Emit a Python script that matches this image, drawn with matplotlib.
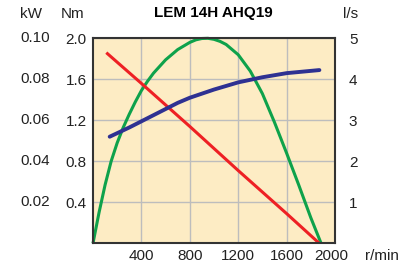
"""Courbes caractéristiques du ventilateur : couple, puissance et débit selon la vitesse."""

import matplotlib
matplotlib.use("Agg")
import matplotlib.pyplot as plt
from matplotlib.transforms import blended_transform_factory, offset_copy

plt.rcParams["font.family"] = ["Liberation Sans", "DejaVu Sans"]

TITLE = "LEM 14H AHQ19"

power_rpm = [0, 50, 100, 150, 200, 250, 300, 350, 400, 450, 500, 600, 700, 800, 850, 900,
             950, 1000, 1050, 1100, 1200, 1300, 1400, 1500, 1600, 1700, 1800, 1885]
power_nm = [0.00, 0.30, 0.57, 0.80, 0.98, 1.13, 1.26, 1.38, 1.49, 1.58, 1.66, 1.79, 1.89, 1.96, 1.985, 1.998,
            2.00, 1.99, 1.97, 1.94, 1.84, 1.68, 1.46, 1.18, 0.88, 0.57, 0.25, 0.00]

torque_rpm = [110, 400, 800, 1200, 1600, 1870]
torque_nm = [1.86, 1.56, 1.14, 0.71, 0.29, 0.00]

flow_rpm = [138, 300, 400, 500, 600, 700, 800, 1000, 1200, 1400, 1600, 1871]
flow_nm = [1.04, 1.13, 1.19, 1.25, 1.31, 1.37, 1.42, 1.50, 1.57, 1.62, 1.66, 1.69]

x_ticks = [400, 800, 1200, 1600, 2000]
nm_ticks = [0.4, 0.8, 1.2, 1.6, 2.0]
nm_labels = ["0.4", "0.8", "1.2", "1.6", "2.0"]
kw_labels = ["0.02", "0.04", "0.06", "0.08", "0.10"]
ls_ticks = [1, 2, 3, 4, 5]

BG = "#fdecc4"
GRID = "#bdbdbd"
TXT = "#222222"
FS = 11


def main():
    fig = plt.figure(figsize=(4.12, 2.73), dpi=100)
    ax = fig.add_axes([0.2257, 0.1088, 0.5874, 0.7509])
    ax.set_facecolor(BG)

    ax.set_xlim(0, 2000)
    ax.set_ylim(0, 2.0)
    ax.set_xticks(x_ticks[:-1])
    ax.set_yticks(nm_ticks)
    ax.set_yticklabels(nm_labels)
    ax.grid(True, color=GRID, linewidth=1.0)
    ax.set_axisbelow(True)
    ax.tick_params(length=0, labelsize=FS, colors=TXT)
    ax.tick_params(axis="y", pad=4.5)
    ax.set_xticklabels([])

    for s in ax.spines.values():
        s.set_color("#333333")
        s.set_linewidth(1.5)

    ax.plot(power_rpm, power_nm, color="#0ea24b", linewidth=2.2, solid_capstyle="butt", clip_on=False)
    ax.plot(torque_rpm, torque_nm, color="#ee2024", linewidth=2.2, solid_capstyle="butt")
    ax.plot(flow_rpm, flow_nm, color="#2e3192", linewidth=2.8, solid_capstyle="round")

    # étiquettes de l'axe x, 2000 un peu décalé comme sur l'original
    for v in x_ticks:
        dx = -4 if v == 2000 else 0
        tr = offset_copy(ax.transData, fig=fig, x=dx, y=0, units="dots")
        ax.text(v, -0.06, str(v), transform=tr, ha="center", va="top", fontsize=FS, color=TXT)
    ax.text(1.123, -0.03, "r/min", transform=ax.transAxes, ha="left", va="top",
            fontsize=FS, color=TXT)

    # colonne kW à gauche
    trans = blended_transform_factory(ax.transAxes, ax.transData)
    for v, lab in zip(nm_ticks, kw_labels):
        ax.text(-0.179, v, lab, transform=trans, ha="right", va="center", fontsize=FS, color=TXT)

    # échelle l/s à droite
    ax2 = ax.twinx()
    ax2.set_ylim(0, 5)
    ax2.set_yticks(ls_ticks)
    ax2.tick_params(length=0, labelsize=FS, pad=10, colors=TXT)
    for s in ax2.spines.values():
        s.set_visible(False)

    fig.text(20 / 412, 1 - 14 / 273, "kW", ha="left", va="center", fontsize=FS, color=TXT)
    fig.text(61 / 412, 1 - 14 / 273, "Nm", ha="left", va="center", fontsize=FS, color=TXT)
    fig.text(343 / 412, 1 - 14 / 273, "l/s", ha="left", va="center", fontsize=FS, color=TXT)
    fig.text(213 / 412, 1 - 13 / 273, TITLE, ha="center", va="center", fontsize=FS,
             fontweight="heavy", color="black")

    fig.savefig("out.png", dpi=100, facecolor="white")
    plt.close(fig)


if __name__ == "__main__":
    main()
